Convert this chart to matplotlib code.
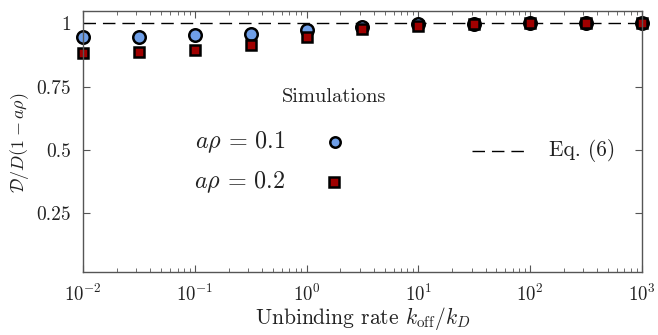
import numpy as np
import matplotlib
matplotlib.use("Agg")
import matplotlib.pyplot as plt

plt.rcParams["font.family"] = "cmr10"
plt.rcParams["mathtext.fontset"] = "cm"
plt.rcParams["axes.formatter.use_mathtext"] = True

# unbinding rate k_off / k_D, half-decade steps
k_off = [1e-2, 10**-1.5, 1e-1, 10**-0.5, 1e0, 10**0.5, 1e1, 10**1.5, 1e2, 10**2.5, 1e3]
# normalised diffusion coefficient from simulations
d_01 = [0.947, 0.947, 0.954, 0.958, 0.974, 0.987, 0.996, 0.999, 1.0, 1.0, 1.0]
d_02 = [0.884, 0.888, 0.894, 0.913, 0.945, 0.976, 0.990, 0.997, 1.0, 1.0, 1.0]
# Eq. (6) prediction
k_theory = [1e-2, 1e3]
d_theory = [1.0, 1.0]

blue = "#6f9fe8"
red = "#a00000"
ink = "#222222"
dash = (9, 5)

fig = plt.figure(figsize=(6.58, 3.35), dpi=100)
ax = fig.add_axes([83.2 / 658, 1 - 272.3 / 335, 558.5 / 658, 261.3 / 335])

ax.plot(k_theory, d_theory, "k--", lw=1.0, dashes=dash)
ax.plot(k_off, d_01, "o", ms=9, mfc=blue, mec="k", mew=1.8, ls="none", clip_on=False)
ax.plot(k_off, d_02, "s", ms=7.5, mfc=red, mec="k", mew=1.8, ls="none", clip_on=False)

ax.set_xscale("log")
ax.set_xlim(1e-2, 1e3)
ax.set_ylim(0.015, 1.049)
ax.set_yticks([0.25, 0.5, 0.75, 1])
ax.set_yticklabels(["0.25", "0.5", "0.75", "1"])

ax.tick_params(which="both", direction="in", top=True, right=True,
               colors="#555555", labelcolor=ink)
ax.tick_params(which="major", length=5, width=0.8)
ax.tick_params(which="minor", length=3, width=0.6)
ax.tick_params(axis="x", pad=8, labelsize=13.5)
ax.tick_params(axis="y", pad=9, labelsize=14)
for s in ax.spines.values():
    s.set_color("#555555")
    s.set_linewidth(1.0)

ax.set_xlabel(r"Unbinding rate $k_{\rm off}/k_D$", fontsize=15.5, labelpad=0, color=ink)
ax.set_ylabel(r"$\mathcal{D}/D(1-a\rho)$", fontsize=13, color=ink)
ax.yaxis.set_label_coords(-0.093, 0.497)

# legend drawn by hand
def ax_xy(px, py):
    return ((px - 83.2) / 558.5, (272.3 - py) / 261.3)

tr = ax.transAxes
ax.text(*ax_xy(334, 97), "Simulations", transform=tr, ha="center", va="center",
        fontsize=14.7, color=ink)
ax.text(*ax_xy(240, 141.7), r"$a\rho\,=\,0.1$", transform=tr, ha="center", va="center",
        fontsize=17.4, color=ink)
ax.text(*ax_xy(240, 181.7), r"$a\rho\,=\,0.2$", transform=tr, ha="center", va="center",
        fontsize=17.4, color=ink)
ax.plot(*ax_xy(335, 141.7), "o", ms=7.5, mfc=blue, mec="k", mew=1.8, transform=tr)
ax.plot(*ax_xy(334, 182), "s", ms=6.5, mfc=red, mec="k", mew=1.8, transform=tr)
x0, yl = ax_xy(472, 151)
x1, _ = ax_xy(530, 151)
ax.plot([x0, x1], [yl, yl], "k--", lw=1.0, dashes=dash, transform=tr)
ax.text(*ax_xy(582, 150), "Eq. (6)", transform=tr, ha="center", va="center",
        fontsize=15.4, color=ink)

fig.savefig("out.png", dpi=100)
